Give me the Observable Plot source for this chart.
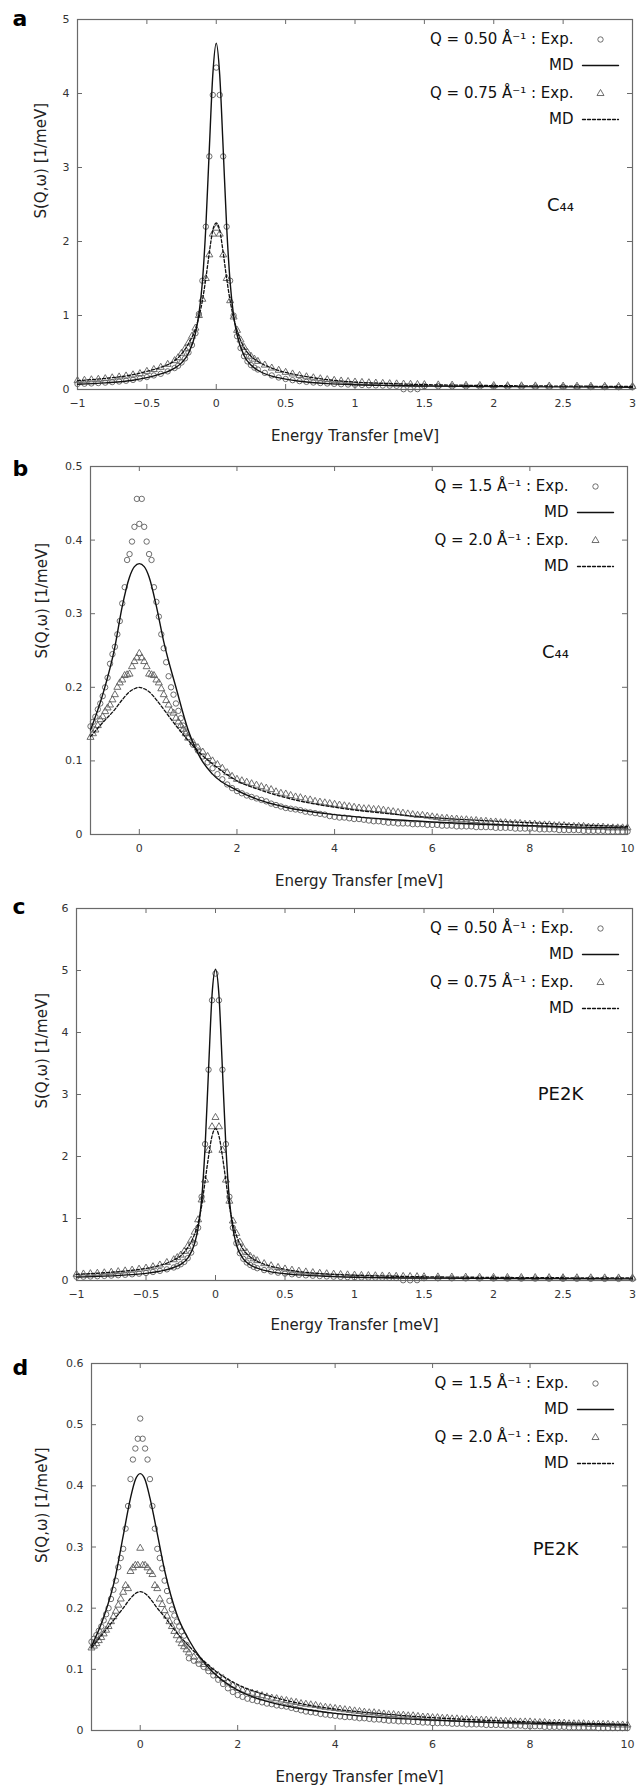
<!DOCTYPE html>
<html><head><meta charset="utf-8">
<script src="https://cdn.jsdelivr.net/npm/d3@7"></script>
<script src="https://cdn.jsdelivr.net/npm/@observablehq/plot@0.6"></script>
<style>
body{margin:0;background:#fff;}
#fig{width:638px;}
#fig svg{display:block;}
</style></head><body><div id="fig"></div>
<script>
// ---------- tick values ----------
const ticksX_ac = [-1,-0.5,0,0.5,1,1.5,2,2.5,3];
const ticksX_bd = [0,2,4,6,8,10];
const ticksY_a = [0,1,2,3,4,5];
const ticksY_b = [0,0.1,0.2,0.3,0.4,0.5];
const ticksY_c = [0,1,2,3,4,5,6];
const ticksY_d = [0,0.1,0.2,0.3,0.4,0.5,0.6];

// ---------- energy grids (meV) ----------
const expX_ac = [-1,-0.95,-0.9,-0.85,-0.8,-0.75,-0.7,-0.65,-0.6,-0.55,-0.5,-0.45,-0.4,-0.35,-0.3,
 -0.275,-0.25,-0.225,-0.2,-0.175,-0.15,-0.125,-0.1,-0.075,-0.05,-0.025,0,0.025,0.05,0.075,0.1,0.125,0.15,0.175,0.2,0.225,0.25,0.275,0.3,
 0.35,0.4,0.45,0.5,0.55,0.6,0.65,0.7,0.75,0.8,0.85,0.9,0.95,1,1.05,1.1,1.15,1.2,1.25,1.3,1.35,1.4,1.45,1.5,
 1.6,1.7,1.8,1.9,2,2.1,2.2,2.3,2.4,2.5,2.6,2.7,2.8,2.9,3];
const mdX_ac = [-1,-0.8,-0.6,-0.5,-0.4,-0.3,-0.25,-0.2,-0.15,-0.125,-0.1,-0.075,-0.05,-0.025,0,0.025,0.05,0.075,0.1,0.125,0.15,0.2,0.25,0.3,0.4,0.5,0.6,0.8,1,1.25,1.5,2,2.5,3];
const expX_bd = [-1,-0.95,-0.9,-0.85,-0.8,-0.75,-0.7,-0.65,-0.6,-0.55,-0.5,-0.45,-0.4,-0.35,-0.3,-0.25,-0.2,-0.15,-0.1,-0.05,0,
 0.05,0.1,0.15,0.2,0.25,0.3,0.35,0.4,0.45,0.5,0.55,0.6,0.65,0.7,0.75,0.8,0.85,0.9,0.95,1,
 1.1,1.2,1.3,1.4,1.5,1.6,1.7,1.8,1.9,2,
 2.1,2.2,2.3,2.4,2.5,2.6,2.7,2.8,2.9,3,
 3.1,3.2,3.3,3.4,3.5,3.6,3.7,3.8,3.9,4,
 4.1,4.2,4.3,4.4,4.5,4.6,4.7,4.8,4.9,5,
 5.1,5.2,5.3,5.4,5.5,5.6,5.7,5.8,5.9,6,
 6.1,6.2,6.3,6.4,6.5,6.6,6.7,6.8,6.9,7,
 7.1,7.2,7.3,7.4,7.5,7.6,7.7,7.8,7.9,8,
 8.1,8.2,8.3,8.4,8.5,8.6,8.7,8.8,8.9,9,
 9.1,9.2,9.3,9.4,9.5,9.6,9.7,9.8,9.9,10];
const mdX_bd = [-1,-0.75,-0.5,-0.35,-0.2,-0.1,0,0.1,0.2,0.35,0.5,0.75,1,1.25,1.5,2,2.5,3,4,5,6,7,8,9,10];

// ---------- panel a (C44, Q = 0.50 / 0.75) ----------
const a_exp050 = [0.075,0.078,0.082,0.087,0.093,0.1,0.108,0.118,0.13,0.148,0.168,0.19,0.212,0.245,0.29,
 0.32,0.365,0.42,0.5,0.6,0.76,1.02,1.47,2.2,3.15,3.98,4.35,3.98,3.15,2.2,1.47,1.0,0.72,0.56,0.45,0.38,0.33,0.295,0.27,
 0.225,0.19,0.162,0.142,0.126,0.113,0.103,0.094,0.087,0.081,0.076,0.071,0.067,0.064,0.061,0.058,0.056,0.054,0.052,0.05,0.004,0.003,0.005,0.045,
 0.044,0.043,0.042,0.041,0.04,0.039,0.038,0.037,0.036,0.035,0.034,0.033,0.032,0.031,0.03];
const a_exp075 = [0.12,0.125,0.131,0.138,0.147,0.158,0.17,0.183,0.198,0.215,0.245,0.27,0.3,0.34,0.39,
 0.43,0.49,0.55,0.63,0.72,0.83,1.0,1.22,1.5,1.82,2.1,2.18,2.1,1.82,1.5,1.2,0.98,0.8,0.67,0.57,0.5,0.45,0.41,0.38,
 0.33,0.29,0.26,0.232,0.21,0.19,0.172,0.158,0.145,0.133,0.124,0.115,0.108,0.101,0.096,0.091,0.087,0.083,0.079,0.076,0.073,0.07,0.068,0.066,
 0.062,0.059,0.057,0.055,0.053,0.051,0.05,0.048,0.047,0.046,0.045,0.044,0.043,0.042,0.041];
const a_md050 = [0.07,0.09,0.125,0.16,0.21,0.29,0.36,0.49,0.76,1.02,1.45,2.2,3.25,4.25,4.68,4.25,3.25,2.2,1.45,1.0,0.74,0.46,0.33,0.26,0.18,0.14,0.112,0.08,0.064,0.054,0.048,0.04,0.035,0.031];
const a_md075 = [0.12,0.15,0.2,0.245,0.3,0.39,0.48,0.62,0.82,0.98,1.2,1.5,1.85,2.15,2.25,2.15,1.85,1.5,1.2,0.97,0.8,0.57,0.45,0.38,0.29,0.23,0.19,0.133,0.1,0.08,0.066,0.053,0.046,0.041];

// ---------- panel b (C44, Q = 1.5 / 2.0) ----------
const b_exp15 = [0.147,0.153,0.16,0.17,0.178,0.188,0.2,0.213,0.232,0.245,0.255,0.272,0.29,0.314,0.336,0.373,0.381,0.398,0.418,0.456,0.422,
 0.456,0.418,0.398,0.381,0.373,0.336,0.316,0.296,0.272,0.253,0.234,0.215,0.2,0.19,0.178,0.168,0.158,0.148,0.14,0.132,
 0.122,0.114,0.106,0.098,0.09,0.082,0.075,0.068,0.063,0.059,
 0.056,0.053,0.051,0.049,0.047,0.045,0.042,0.04,0.038,0.036,
 0.035,0.034,0.033,0.031,0.03,0.029,0.028,0.027,0.025,0.024,
 0.023,0.023,0.022,0.021,0.021,0.02,0.019,0.018,0.018,0.017,
 0.016,0.016,0.015,0.015,0.015,0.014,0.014,0.014,0.013,0.013,
 0.013,0.012,0.012,0.012,0.011,0.011,0.011,0.011,0.01,0.01,
 0.01,0.01,0.009,0.009,0.009,0.009,0.008,0.008,0.008,0.008,
 0.008,0.007,0.007,0.007,0.007,0.006,0.006,0.006,0.006,0.006,
 0.005,0.005,0.005,0.005,0.005,0.004,0.004,0.004,0.004,0.004];
const b_exp20 = [0.132,0.137,0.142,0.148,0.156,0.16,0.167,0.172,0.176,0.183,0.19,0.2,0.206,0.21,0.216,0.217,0.218,0.228,0.235,0.24,0.246,
 0.24,0.235,0.228,0.218,0.217,0.216,0.21,0.206,0.198,0.19,0.182,0.176,0.168,0.165,0.158,0.153,0.148,0.143,0.137,0.131,
 0.125,0.118,0.112,0.106,0.1,0.095,0.09,0.084,0.079,0.075,
 0.073,0.071,0.069,0.067,0.065,0.063,0.061,0.058,0.056,0.055,
 0.053,0.051,0.05,0.048,0.047,0.045,0.044,0.043,0.042,0.041,
 0.04,0.039,0.038,0.037,0.036,0.035,0.035,0.034,0.034,0.033,
 0.032,0.031,0.03,0.029,0.028,0.027,0.026,0.026,0.025,0.024,
 0.023,0.022,0.022,0.021,0.021,0.02,0.02,0.019,0.019,0.018,
 0.018,0.017,0.017,0.016,0.016,0.015,0.015,0.015,0.014,0.014,
 0.014,0.013,0.013,0.013,0.012,0.012,0.012,0.011,0.011,0.011,
 0.011,0.01,0.01,0.01,0.01,0.009,0.009,0.009,0.009,0.009];
const b_md15 = [0.142,0.19,0.255,0.31,0.35,0.364,0.368,0.364,0.35,0.31,0.262,0.2,0.142,0.104,0.082,0.06,0.046,0.037,0.027,0.021,0.017,0.014,0.012,0.01,0.009];
const b_md20 = [0.133,0.152,0.17,0.183,0.194,0.198,0.2,0.198,0.194,0.183,0.17,0.148,0.128,0.11,0.096,0.073,0.06,0.05,0.037,0.029,0.023,0.019,0.016,0.013,0.011];

// ---------- panel c (PE2K, Q = 0.50 / 0.75) ----------
const c_exp050 = [0.06,0.062,0.065,0.069,0.074,0.079,0.085,0.092,0.1,0.11,0.122,0.137,0.155,0.18,0.21,
 0.232,0.262,0.3,0.36,0.45,0.6,0.85,1.35,2.2,3.4,4.52,4.95,4.52,3.4,2.2,1.35,0.85,0.6,0.44,0.35,0.29,0.25,0.22,0.198,
 0.168,0.145,0.126,0.112,0.1,0.091,0.083,0.077,0.071,0.066,0.062,0.058,0.055,0.052,0.05,0.048,0.046,0.044,0.042,0.041,0.004,0.003,0.005,0.037,
 0.036,0.035,0.034,0.033,0.032,0.031,0.03,0.03,0.029,0.028,0.028,0.027,0.026,0.026,0.025];
const c_exp075 = [0.1,0.105,0.11,0.117,0.124,0.133,0.143,0.155,0.168,0.183,0.2,0.222,0.25,0.29,0.335,
 0.37,0.41,0.47,0.55,0.65,0.78,0.98,1.3,1.62,2.1,2.48,2.63,2.48,2.1,1.62,1.28,0.96,0.76,0.62,0.52,0.45,0.39,0.35,0.32,
 0.272,0.238,0.21,0.186,0.167,0.151,0.138,0.127,0.117,0.109,0.102,0.096,0.091,0.086,0.082,0.079,0.076,0.073,0.07,0.068,0.066,0.064,0.062,0.06,
 0.058,0.056,0.054,0.052,0.05,0.049,0.048,0.047,0.046,0.045,0.044,0.043,0.042,0.041,0.04];
const c_md050 = [0.055,0.07,0.095,0.115,0.15,0.21,0.26,0.36,0.6,0.85,1.3,2.15,3.4,4.6,5.02,4.6,3.4,2.15,1.3,0.84,0.58,0.35,0.25,0.2,0.14,0.11,0.09,0.066,0.052,0.045,0.04,0.034,0.03,0.027];
const c_md075 = [0.1,0.125,0.165,0.195,0.245,0.33,0.4,0.53,0.75,0.93,1.2,1.6,2.0,2.33,2.45,2.33,2.0,1.6,1.2,0.92,0.73,0.5,0.38,0.31,0.23,0.18,0.145,0.105,0.085,0.07,0.06,0.05,0.044,0.04];

// ---------- panel d (PE2K, Q = 1.5 / 2.0) ----------
const d_exp15 = [0.145,0.15,0.156,0.163,0.17,0.18,0.19,0.2,0.215,0.23,0.245,0.267,0.282,0.297,0.33,0.367,0.411,0.443,0.461,0.477,0.51,
 0.477,0.461,0.443,0.411,0.367,0.33,0.297,0.282,0.265,0.245,0.228,0.212,0.198,0.188,0.178,0.17,0.162,0.155,0.14,0.118,
 0.114,0.109,0.104,0.097,0.09,0.083,0.076,0.069,0.063,0.058,
 0.055,0.052,0.05,0.048,0.046,0.044,0.043,0.041,0.04,0.039,
 0.037,0.035,0.033,0.031,0.03,0.029,0.027,0.026,0.025,0.024,
 0.023,0.022,0.022,0.021,0.02,0.02,0.019,0.018,0.018,0.017,
 0.016,0.016,0.015,0.015,0.015,0.014,0.014,0.013,0.013,0.012,
 0.012,0.012,0.012,0.011,0.011,0.011,0.01,0.01,0.01,0.01,
 0.009,0.009,0.009,0.009,0.008,0.008,0.008,0.008,0.007,0.007,
 0.007,0.007,0.006,0.006,0.006,0.006,0.006,0.005,0.005,0.005,
 0.005,0.005,0.005,0.004,0.004,0.004,0.004,0.004,0.004,0.004];
const d_exp20 = [0.135,0.138,0.142,0.147,0.152,0.158,0.164,0.17,0.178,0.186,0.195,0.205,0.215,0.226,0.237,0.232,0.26,0.266,0.27,0.27,0.298,
 0.27,0.27,0.266,0.26,0.255,0.237,0.232,0.215,0.206,0.196,0.187,0.178,0.17,0.162,0.155,0.148,0.142,0.137,0.132,0.127,
 0.12,0.114,0.108,0.102,0.096,0.09,0.085,0.079,0.074,0.069,
 0.066,0.063,0.061,0.059,0.057,0.055,0.053,0.052,0.05,0.049,
 0.047,0.046,0.044,0.043,0.042,0.041,0.039,0.038,0.037,0.036,
 0.035,0.034,0.033,0.032,0.031,0.03,0.029,0.029,0.028,0.027,
 0.026,0.026,0.025,0.025,0.024,0.024,0.023,0.022,0.022,0.021,
 0.021,0.02,0.02,0.019,0.019,0.018,0.018,0.018,0.017,0.017,
 0.017,0.016,0.016,0.015,0.015,0.015,0.014,0.014,0.014,0.014,
 0.013,0.013,0.013,0.012,0.012,0.012,0.012,0.011,0.011,0.011,
 0.011,0.01,0.01,0.01,0.01,0.01,0.009,0.009,0.009,0.009];
const d_md15 = [0.138,0.185,0.255,0.318,0.38,0.41,0.42,0.41,0.38,0.322,0.262,0.19,0.148,0.117,0.095,0.066,0.05,0.04,0.028,0.021,0.017,0.014,0.012,0.01,0.009];
const d_md20 = [0.135,0.16,0.185,0.2,0.216,0.224,0.227,0.224,0.216,0.2,0.186,0.16,0.138,0.118,0.1,0.075,0.06,0.049,0.035,0.027,0.021,0.017,0.014,0.012,0.01];

// ---------- texts ----------
const xTitle = "Energy Transfer [meV]";
const yTitle = "S(Q,\u03c9) [1/meV]";
const legendLow = ["Q = 0.50 \u00c5\u207b\u00b9 : Exp.", "MD", "Q = 0.75 \u00c5\u207b\u00b9 : Exp.", "MD"];
const legendHigh = ["Q = 1.5 \u00c5\u207b\u00b9 : Exp.", "MD", "Q = 2.0 \u00c5\u207b\u00b9 : Exp.", "MD"];
const sampleC44 = "C\u2084\u2084";
const samplePE = "PE2K";

const FONT = "'DejaVu Sans', sans-serif";
const AXIS = "#6a6a6a";
const PTS = "#5e5e5e";
const LINE = "#111";
const segShape = {draw(context, l) { context.moveTo(0, 0); context.lineTo(0, -l); }};
const fmt = d => (d < 0 ? "\u2212" + Math.abs(d) : String(d));

function panel(p) {
  const W = 638 - p.ml - p.mr;
  const H = p.height - p.mt - p.mb;
  const e1 = p.ex.map((x, i) => ({x, y: p.e1[i]}));
  const e2 = p.ex.map((x, i) => ({x, y: p.e2[i]}));
  const m1 = p.mx.map((x, i) => ({x, y: p.m1[i]}));
  const m2 = p.mx.map((x, i) => ({x, y: p.m2[i]}));
  const rows = [20, 46, 74, 100];
  return Plot.plot({
    width: 638, height: p.height,
    marginTop: p.mt, marginBottom: p.mb, marginLeft: p.ml, marginRight: p.mr,
    style: {fontFamily: FONT, background: "#fff", color: "#222", overflow: "visible"},
    x: {domain: p.xd},
    y: {domain: p.yd},
    marks: [
      Plot.frame({stroke: AXIS, strokeWidth: 1.2}),
      Plot.ruleX(p.xt, {x: d => d, insetTop: H - 5, stroke: AXIS, strokeWidth: 1}),
      Plot.ruleX(p.xt, {x: d => d, insetBottom: H - 5, stroke: AXIS, strokeWidth: 1}),
      Plot.ruleY(p.yt, {y: d => d, insetRight: W - 5, stroke: AXIS, strokeWidth: 1}),
      Plot.ruleY(p.yt, {y: d => d, insetLeft: W - 5, stroke: AXIS, strokeWidth: 1}),
      Plot.axisX({ticks: p.xt, tickSize: 0, tickPadding: 10, fontSize: 11, tickFormat: fmt, label: null, fill: "#333"}),
      Plot.axisY({ticks: p.yt, tickSize: 0, tickPadding: 8, fontSize: 11, tickFormat: fmt, label: null, fill: "#333"}),
      Plot.text([xTitle], {text: d => d, frameAnchor: "bottom", lineAnchor: "middle", dy: p.xtdy, fontSize: 15, fill: "#222"}),
      Plot.text([yTitle], {text: d => d, frameAnchor: "left", lineAnchor: "middle", dx: p.ytdx, dy: p.ytdy, rotate: -90, fontSize: 15, fill: "#222"}),
      Plot.text([p.tag], {text: d => d, frameAnchor: "top-left", lineAnchor: "middle", textAnchor: "start", dx: p.tagdx, dy: p.tagdy, fontSize: 22, fontWeight: "bold", fill: "#000"}),
      Plot.dot(e1, {x: "x", y: "y", symbol: "circle", r: 2.7, stroke: PTS, fill: "none", strokeWidth: 0.9}),
      Plot.dot(e2, {x: "x", y: "y", symbol: "triangle", r: 2.6, stroke: PTS, fill: "none", strokeWidth: 0.9}),
      Plot.line(m1, {x: "x", y: "y", curve: "monotone-x", stroke: LINE, strokeWidth: 1.4}),
      Plot.line(m2, {x: "x", y: "y", curve: "monotone-x", stroke: LINE, strokeWidth: 1.3, strokeDasharray: "3,2"}),
      // legend (key)
      ...p.legend.map((t, i) => Plot.text([t], {text: d => d, frameAnchor: "top-right", lineAnchor: "middle", textAnchor: "end", dx: -59, dy: rows[i], fontSize: 15, fill: "#111"})),
      Plot.dot([0], {frameAnchor: "top-right", dx: -32, dy: rows[0], symbol: "circle", r: 2.7, stroke: PTS, fill: "none", strokeWidth: 0.9}),
      Plot.dot([0], {frameAnchor: "top-right", dx: -32, dy: rows[2], symbol: "triangle", r: 2.6, stroke: PTS, fill: "none", strokeWidth: 0.9}),
      Plot.vector([0], {frameAnchor: "top-right", dx: -50, dy: rows[1], length: 36, rotate: 90, anchor: "start", shape: segShape, stroke: LINE, strokeWidth: 1.4}),
      Plot.vector([0], {frameAnchor: "top-right", dx: -50, dy: rows[3], length: 36, rotate: 90, anchor: "start", shape: segShape, stroke: LINE, strokeWidth: 1.3, strokeDasharray: "3,2"}),
      Plot.text([p.sample], {text: d => d, frameAnchor: "top-right", lineAnchor: "middle", textAnchor: "middle", dx: -72, dy: 186, fontSize: 18, fill: "#111"})
    ]
  });
}

const fig = document.getElementById("fig");
fig.append(panel({height: 446, mt: 19, mb: 57, ml: 77, mr: 6, xd: [-1, 3], yd: [0, 5], xt: ticksX_ac, yt: ticksY_a,
  ex: expX_ac, e1: a_exp050, e2: a_exp075, mx: mdX_ac, m1: a_md050, m2: a_md075,
  legend: legendLow, sample: sampleC44, tag: "a", tagdx: -65, tagdy: -1, ytdx: -36, ytdy: 14, xtdy: 47}));
fig.append(panel({height: 444, mt: 20, mb: 56, ml: 90, mr: 11, xd: [-1, 10], yd: [0, 0.5], xt: ticksX_bd, yt: ticksY_b,
  ex: expX_bd, e1: b_exp15, e2: b_exp20, mx: mdX_bd, m1: b_md15, m2: b_md20,
  legend: legendHigh, sample: sampleC44, tag: "b", tagdx: -78, tagdy: 2, ytdx: -48, ytdy: 8, xtdy: 47}));
fig.append(panel({height: 450, mt: 18, mb: 60, ml: 76, mr: 6, xd: [-1, 3], yd: [0, 6], xt: ticksX_ac, yt: ticksY_c,
  ex: expX_ac, e1: c_exp050, e2: c_exp075, mx: mdX_ac, m1: c_md050, m2: c_md075,
  legend: legendLow, sample: samplePE, tag: "c", tagdx: -64, tagdy: -2, ytdx: -34, ytdy: 14, xtdy: 45}));
fig.append(panel({height: 446, mt: 23, mb: 56, ml: 91, mr: 11, xd: [-1, 10], yd: [0, 0.6], xt: ticksX_bd, yt: ticksY_d,
  ex: expX_bd, e1: d_exp15, e2: d_exp20, mx: mdX_bd, m1: d_md15, m2: d_md20,
  legend: legendHigh, sample: samplePE, tag: "d", tagdx: -79, tagdy: 4, ytdx: -49, ytdy: 16, xtdy: 47}));
</script>
</body></html>
